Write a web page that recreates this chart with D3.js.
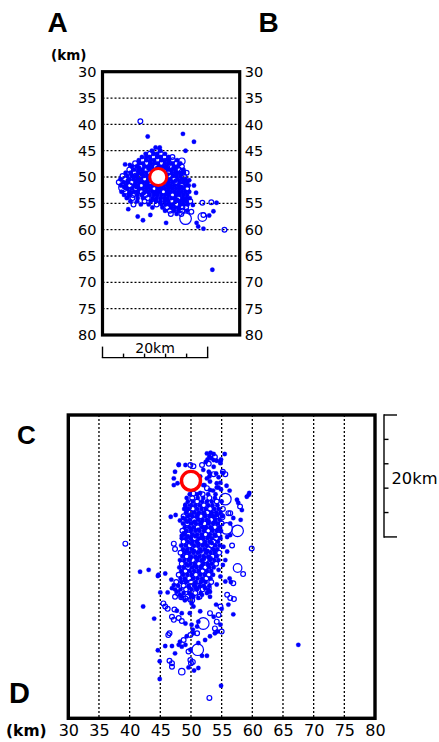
<!DOCTYPE html>
<html>
<head>
<meta charset="utf-8">
<script src="https://cdn.jsdelivr.net/npm/d3@7"></script>
<style>
  body { margin: 0; background: #fff; }
  svg { display: block; }
  text { font-family: "DejaVu Sans", sans-serif; fill: #000; }
</style>
</head>
<body>
<svg id="chart" width="439" height="742"></svg>
<script>
// ---- depth axis ticks (km) ----
const depthTicks = [30, 35, 40, 45, 50, 55, 60, 65, 70, 75, 80];
const gridDepths = [35, 40, 45, 50, 55, 60, 65, 70, 75];
// ---- 20 km scale bars, subdivided every 4 km ----
const scaleBarKm = [0, 4, 8, 12, 16, 20];

// ---- main shock: [distance along A-B, depth] and [depth, distance along C-D] ----
const abMainShock = [10.6, 50.0];
const cdMainShock = [50.0, 10.8];

// ---- events on A-B section: [distance km, depth km, size class] ----
// size class 1 = small filled dot, 2..5 = open circles of increasing magnitude
const abEvents = [
  [10.1,44.4,1],[10.9,44.4,1],
  [9.4,45.0,1],[10.2,45.0,2],[11.0,45.0,1],
  [8.2,45.6,1],[9.0,45.6,2],[9.7,45.6,1],[10.4,45.6,1],[11.1,45.6,2],[11.9,45.6,1],
  [7.5,46.2,1],[8.3,46.2,1],[9.0,46.2,1],[9.7,46.2,2],[10.4,46.2,1],[11.1,46.2,1],[11.8,46.2,2],[12.6,46.2,1],[13.3,46.2,2],
  [6.9,46.8,1],[7.6,46.8,2],[8.4,46.8,1],[9.1,46.8,1],[9.8,46.8,1],[10.5,46.8,2],[11.2,46.8,1],[11.9,46.8,1],[12.6,46.8,1],[13.4,46.8,2],[14.2,46.8,1],
  [6.2,47.4,2],[7.0,47.4,1],[7.7,47.4,1],[8.4,47.4,2],[9.1,47.4,1],[9.8,47.4,1],[10.5,47.4,1],[11.2,47.4,2],[11.9,47.4,1],[12.6,47.4,1],[13.3,47.4,1],[14.0,47.4,2],[14.8,47.4,1],
  [5.6,48.0,1],[6.5,48.0,1],[7.3,48.0,2],[8.0,48.0,1],[8.7,48.0,1],[9.4,48.0,1],[10.1,48.0,2],[10.8,48.0,1],[11.5,48.0,1],[12.2,48.0,1],[12.9,48.0,2],[13.6,48.0,1],[14.3,48.0,1],[15.1,48.0,2],
  [5.1,48.6,2],[6.0,48.6,1],[6.8,48.6,1],[7.6,48.6,1],[8.3,48.6,2],[9.0,48.6,1],[9.7,48.6,1],[10.4,48.6,1],[11.1,48.6,1],[11.8,48.6,2],[12.5,48.6,1],[13.2,48.6,1],[13.9,48.6,1],[14.6,48.6,2],[15.4,48.6,1],
  [4.4,49.2,1],[5.3,49.2,1],[6.1,49.2,2],[6.9,49.2,1],[7.6,49.2,1],[8.3,49.2,1],[9.0,49.2,2],[9.7,49.2,1],[10.4,49.2,1],[11.1,49.2,1],[11.8,49.2,1],[12.5,49.2,2],[13.2,49.2,1],[13.9,49.2,1],[14.6,49.2,1],[15.3,49.2,1],[16.0,49.2,2],
  [3.8,49.8,2],[4.7,49.8,1],[5.6,49.8,1],[6.4,49.8,1],[7.1,49.8,2],[7.8,49.8,1],[8.5,49.8,1],[9.2,49.8,1],[9.9,49.8,1],[10.6,49.8,1],[11.3,49.8,1],[12.0,49.8,1],[12.7,49.8,2],[13.4,49.8,1],[14.1,49.8,1],[14.8,49.8,1],[15.5,49.8,2],
  [3.4,50.4,1],[4.3,50.4,2],[5.1,50.4,1],[5.9,50.4,1],[6.6,50.4,1],[7.3,50.4,1],[8.0,50.4,2],[8.7,50.4,1],[9.4,50.4,1],[10.1,50.4,1],[10.8,50.4,1],[11.5,50.4,1],[12.2,50.4,1],[12.9,50.4,1],[13.6,50.4,2],[14.3,50.4,1],[15.0,50.4,1],[15.8,50.4,1],
  [3.1,51.0,2],[4.0,51.0,1],[4.8,51.0,1],[5.6,51.0,2],[6.3,51.0,1],[7.0,51.0,1],[7.7,51.0,1],[8.4,51.0,1],[9.1,51.0,2],[9.8,51.0,1],[10.5,51.0,1],[11.2,51.0,1],[11.9,51.0,1],[12.6,51.0,1],[13.3,51.0,1],[14.0,51.0,2],[14.7,51.0,1],[15.4,51.0,1],[16.1,51.0,1],
  [3.5,51.6,1],[4.4,51.6,1],[5.2,51.6,2],[6.0,51.6,1],[6.7,51.6,1],[7.4,51.6,2],[8.1,51.6,1],[8.8,51.6,1],[9.5,51.6,1],[10.2,51.6,1],[10.9,51.6,1],[11.6,51.6,1],[12.3,51.6,1],[13.0,51.6,1],[13.7,51.6,1],[14.4,51.6,1],[15.1,51.6,2],[15.8,51.6,1],[16.4,51.6,1],
  [4.7,52.2,1],[5.5,52.2,1],[6.3,52.2,2],[7.0,52.2,1],[7.7,52.2,1],[8.4,52.2,1],[9.1,52.2,1],[9.8,52.2,2],[10.5,52.2,1],[11.2,52.2,1],[11.9,52.2,1],[12.6,52.2,1],[13.3,52.2,1],[14.0,52.2,1],[14.7,52.2,1],[15.4,52.2,1],[16.1,52.2,2],
  [3.6,52.8,1],[4.4,52.8,2],[5.2,52.8,1],[6.0,52.8,1],[6.7,52.8,1],[7.4,52.8,2],[8.1,52.8,1],[8.8,52.8,1],[9.5,52.8,1],[10.2,52.8,1],[10.9,52.8,1],[11.6,52.8,2],[12.3,52.8,1],[13.0,52.8,1],[13.7,52.8,1],[14.4,52.8,1],[15.1,52.8,1],[15.8,52.8,1],[16.5,52.8,1],
  [4.1,53.4,1],[5.0,53.4,1],[5.8,53.4,2],[6.6,53.4,1],[7.4,53.4,1],[8.2,53.4,2],[9.0,53.4,1],[9.8,53.4,1],[10.5,53.4,1],[11.2,53.4,1],[11.9,53.4,1],[12.6,53.4,1],[13.3,53.4,2],[14.0,53.4,1],[14.7,53.4,1],[15.4,53.4,1],[16.1,53.4,1],
  [4.6,54.0,1],[5.7,54.0,2],[6.7,54.0,1],[7.7,54.0,1],[8.6,54.0,2],[9.5,54.0,1],[10.3,54.0,1],[11.0,54.0,1],[11.7,54.0,1],[12.4,54.0,1],[13.1,54.0,1],[13.8,54.0,1],[14.5,54.0,2],[15.2,54.0,1],[15.9,54.0,1],[16.6,54.0,1],
  [5.3,54.6,1],[6.6,54.6,1],[8.0,54.6,2],[9.2,54.6,1],[10.2,54.6,1],[11.0,54.6,1],[11.8,54.6,1],[12.5,54.6,1],[13.2,54.6,2],[13.9,54.6,1],[14.6,54.6,1],[15.3,54.6,1],[16.0,54.6,1],[16.7,54.6,2],
  [7.3,55.2,1],[8.8,55.2,1],[10.3,55.2,2],[11.2,55.2,1],[12.0,55.2,1],[12.7,55.2,1],[13.4,55.2,1],[14.1,55.2,2],[14.8,55.2,1],[15.5,55.2,1],[16.2,55.2,1],
  [9.5,55.8,1],[11.4,55.8,1],[12.3,55.8,2],[13.1,55.8,1],[13.8,55.8,1],[14.5,55.8,1],[15.2,55.8,2],[15.9,55.8,2],
  [11.9,56.4,1],[12.8,56.4,2],[13.6,56.4,1],[14.4,56.4,1],[15.2,56.4,2],[16.1,56.4,1],
  [13.0,57.0,2],[14.1,57.0,1],[15.0,57.0,2],
  [7.0,48.3,1],[8.7,48.3,1],[10.4,48.3,1],[12.0,48.3,1],[13.6,48.3,1],
  [5.5,49.5,1],[7.4,49.5,1],[9.5,49.5,1],[12.3,49.5,1],[14.0,49.5,1],
  [4.8,50.7,1],[6.9,50.7,1],[9.0,50.7,1],[11.8,50.7,1],[13.9,50.7,1],[15.5,50.7,1],
  [4.1,51.9,1],[6.4,51.9,1],[8.6,51.9,1],[10.7,51.9,1],[12.9,51.9,1],[15.0,51.9,1],
  [5.4,53.1,1],[7.8,53.1,1],[10.1,53.1,1],[12.3,53.1,1],[14.4,53.1,1],
  [9.9,54.3,1],[12.0,54.3,1],[14.2,54.3,1],[15.6,54.3,1],
  [7.2,39.4,2],[8.6,42.3,1],[15.3,41.8,1],[17.4,43.3,1],[15.8,45.0,1],[4.3,47.6,1],[5.2,47.7,1],
  [7.0,48.6,1],[6.4,49.7,2],[13.2,48.1,2],[14.6,47.5,1],[15.1,47.0,3],[15.2,49.1,3],[16.5,50.6,1],
  [3.9,52.0,4],[4.8,53.9,1],[5.9,55.2,2],[4.9,56.1,1],[6.7,57.5,1],[7.7,58.2,1],[9.1,57.2,1],
  [12.1,58.7,1],[15.8,57.9,5],[19.0,57.6,4],[19.2,57.2,2],[19.0,54.9,2],[20.7,54.8,2],[21.7,54.9,1],
  [21.1,56.5,1],[20.3,57.3,1],[17.9,58.7,1],[18.2,59.4,1],[19.2,59.8,1],[23.2,60.0,2],[20.9,67.6,1],
  [17.8,53.0,1],[17.2,55.3,1],[16.9,56.6,2],[17.4,51.6,1]
];

// ---- events on C-D section: [depth km, distance from C km, size class] ----
const cdEvents = [
  // shallow group near C
  [52.6,6.3,1],[53.2,6.2,1],[53.7,6.4,1],[53.3,7.1,1],[52.7,7.3,1],[53.7,7.4,1],[54.2,7.5,1],
  [55.5,6.4,1],[54.9,7.3,1],[53.0,6.8,1],[53.9,6.9,2],[52.4,7.7,1],[54.8,7.6,1],
  // around the main shock
  [48.0,8.2,1],[49.1,8.2,1],[49.9,8.2,2],[50.4,8.4,2],[47.4,9.3,1],[47.2,11.5,1],[47.8,11.2,1],
  [52.0,9.0,1],[51.5,10.1,1],[52.6,10.4,1],[53.1,10.9,1],[52.2,11.5,1],[53.1,12.3,1],[54.2,11.2,1],
  [54.5,11.9,1],[54.9,12.2,1],[55.2,9.5,1],[55.6,9.7,2],[52.9,8.0,2],[53.7,8.5,1],[54.8,7.9,1],
  [51.8,8.2,2],[53.1,9.6,1],[54.1,9.6,1],[48.0,8.1,1],[47.2,10.4,1],[52.9,9.3,1],[53.0,10.1,1],
  [53.7,9.7,2],[54.5,10.2,1],[55.2,9.3,2],[54.8,11.1,1],[54.2,11.9,1],[53.6,12.4,1],[52.6,12.0,2],
  [55.8,11.6,1],[56.3,12.4,1],[52.0,11.5,1],[51.0,11.5,1],[51.5,12.8,1],[50.4,12.9,2],
  // main body
  [49.8,13.0,1],[51.0,13.0,1],[51.9,13.0,2],[52.8,13.0,1],[54.0,13.0,1],
  [49.3,13.6,1],[50.2,13.6,2],[51.1,13.6,1],[52.0,13.6,1],[53.0,13.6,2],[53.9,13.6,1],
  [49.5,14.2,1],[50.3,14.2,1],[51.0,14.2,2],[51.8,14.2,1],[52.6,14.2,1],[53.4,14.2,1],[54.2,14.2,2],[55.0,14.2,1],
  [49.2,14.8,2],[50.0,14.8,1],[50.7,14.8,1],[51.4,14.8,1],[52.1,14.8,2],[52.8,14.8,1],[53.5,14.8,1],[54.3,14.8,1],
  [48.9,15.4,1],[49.6,15.4,1],[50.3,15.4,2],[51.0,15.4,1],[51.7,15.4,1],[52.4,15.4,1],[53.1,15.4,2],[53.8,15.4,1],[54.5,15.4,1],[55.2,15.4,2],
  [49.2,16.0,1],[49.9,16.0,2],[50.6,16.0,1],[51.3,16.0,1],[52.0,16.0,1],[52.7,16.0,2],[53.4,16.0,1],[54.1,16.0,1],[54.8,16.0,1],
  [48.8,16.6,2],[49.5,16.6,1],[50.2,16.6,1],[50.9,16.6,1],[51.6,16.6,2],[52.3,16.6,1],[53.0,16.6,1],[53.7,16.6,1],[54.4,16.6,2],[55.1,16.6,1],
  [49.1,17.2,1],[49.8,17.2,1],[50.5,17.2,2],[51.2,17.2,1],[51.9,17.2,1],[52.6,17.2,1],[53.3,17.2,2],[54.0,17.2,1],[54.7,17.2,1],
  [48.7,17.8,1],[49.4,17.8,2],[50.1,17.8,1],[50.8,17.8,1],[51.5,17.8,1],[52.2,17.8,2],[52.9,17.8,1],[53.6,17.8,1],[54.3,17.8,1],[55.0,17.8,2],
  [49.0,18.4,1],[49.7,18.4,1],[50.4,18.4,1],[51.1,18.4,2],[51.8,18.4,1],[52.5,18.4,1],[53.2,18.4,1],[53.9,18.4,2],[54.6,18.4,1],
  [48.6,19.0,2],[49.3,19.0,1],[50.0,19.0,1],[50.7,19.0,1],[51.4,19.0,1],[52.1,19.0,1],[52.8,19.0,2],[53.5,19.0,1],[54.2,19.0,1],[54.9,19.0,1],
  [48.9,19.6,1],[49.6,19.6,2],[50.3,19.6,1],[51.0,19.6,1],[51.7,19.6,1],[52.4,19.6,2],[53.1,19.6,1],[53.8,19.6,1],[54.5,19.6,2],
  [48.5,20.2,1],[49.2,20.2,1],[49.9,20.2,1],[50.6,20.2,2],[51.3,20.2,1],[52.0,20.2,1],[52.7,20.2,1],[53.4,20.2,1],[54.1,20.2,2],[54.8,20.2,1],
  [48.8,20.8,2],[49.5,20.8,1],[50.2,20.8,1],[50.9,20.8,1],[51.6,20.8,2],[52.3,20.8,1],[53.0,20.8,1],[53.7,20.8,2],[54.4,20.8,1],
  [48.4,21.4,1],[49.1,21.4,1],[49.8,21.4,2],[50.5,21.4,1],[51.2,21.4,1],[51.9,21.4,1],[52.6,21.4,1],[53.3,21.4,2],[54.0,21.4,1],[54.7,21.4,1],
  [48.7,22.0,1],[49.4,22.0,1],[50.1,22.0,1],[50.8,22.0,2],[51.5,22.0,1],[52.2,22.0,1],[52.9,22.0,2],[53.6,22.0,1],[54.3,22.0,1],
  [48.3,22.6,2],[49.0,22.6,1],[49.7,22.6,1],[50.4,22.6,1],[51.1,22.6,1],[51.8,22.6,2],[52.5,22.6,1],[53.2,22.6,1],[53.9,22.6,1],[54.6,22.6,2],
  [48.6,23.2,1],[49.3,23.2,2],[50.0,23.2,1],[50.7,23.2,1],[51.4,23.2,1],[52.1,23.2,1],[52.8,23.2,1],[53.5,23.2,2],[54.2,23.2,1],
  [48.2,23.8,1],[48.9,23.8,1],[49.6,23.8,1],[50.3,23.8,2],[51.0,23.8,1],[51.7,23.8,1],[52.4,23.8,2],[53.1,23.8,1],[53.8,23.8,1],[54.5,23.8,1],
  [48.5,24.4,2],[49.2,24.4,1],[49.9,24.4,1],[50.6,24.4,1],[51.3,24.4,2],[52.0,24.4,1],[52.7,24.4,1],[53.4,24.4,1],[54.1,24.4,2],
  [48.1,25.0,1],[48.8,25.0,1],[49.5,25.0,2],[50.2,25.0,1],[50.9,25.0,1],[51.6,25.0,1],[52.3,25.0,2],[53.0,25.0,1],[53.7,25.0,1],
  [48.4,25.6,1],[49.1,25.6,2],[49.8,25.6,1],[50.5,25.6,1],[51.2,25.6,1],[51.9,25.6,2],[52.6,25.6,1],[53.3,25.6,1],
  [48.0,26.2,2],[48.7,26.2,1],[49.4,26.2,1],[50.1,26.2,1],[50.8,26.2,2],[51.5,26.2,1],[52.2,26.2,1],[52.9,26.2,2],[53.6,26.2,1],
  [48.3,26.8,1],[49.0,26.8,1],[49.7,26.8,2],[50.4,26.8,1],[51.1,26.8,1],[51.8,26.8,1],[52.5,26.8,2],[53.2,26.8,1],
  [47.6,27.4,2],[48.4,27.4,1],[49.2,27.4,1],[50.0,27.4,2],[50.8,27.4,1],[51.6,27.4,1],[52.4,27.4,1],[53.3,27.4,2],
  [47.9,28.0,1],[48.8,28.0,2],[49.6,28.0,1],[50.5,28.0,1],[51.3,28.0,2],[52.1,28.0,1],[53.0,28.0,1],
  [47.4,28.6,1],[48.3,28.6,1],[49.2,28.6,2],[50.1,28.6,1],[51.0,28.6,1],[51.9,28.6,2],[52.8,28.6,1],
  [47.8,29.2,2],[48.8,29.2,1],[49.7,29.2,1],[50.7,29.2,2],[51.6,29.2,1],[52.6,29.2,1],
  [48.4,29.8,1],[49.4,29.8,2],[50.4,29.8,1],[51.4,29.8,2],
  [49.0,30.4,1],[50.2,30.4,2],
  [50.0,16.3,1],[51.1,16.4,1],[52.2,16.2,1],[53.3,16.3,1],[54.2,16.4,1],
  [49.4,17.5,1],[50.6,17.5,1],[51.7,17.6,1],[52.9,17.4,1],[53.9,17.5,1],
  [50.0,18.7,1],[51.2,18.8,1],[52.3,18.6,1],[53.4,18.7,1],[54.4,18.8,1],
  [49.5,19.9,1],[50.7,19.9,1],[51.8,20.0,1],[52.9,19.9,1],[54.0,19.8,1],
  [50.1,21.1,1],[51.2,21.1,1],[52.3,21.2,1],[53.4,21.0,1],
  [49.3,22.3,1],[50.5,22.3,1],[51.6,22.4,1],[52.7,22.3,1],[53.8,22.2,1],
  [49.9,23.5,1],[51.0,23.5,1],[52.1,23.6,1],[53.2,23.5,1],
  [49.5,24.7,1],[50.6,24.7,1],[51.7,24.8,1],[52.8,24.6,1],
  [49.0,27.1,1],[50.6,27.7,1],[51.9,27.2,1],[49.7,28.3,1],[52.3,28.4,1],
  // flanks of the main body
  [57.5,13.9,1],[58.0,15.0,2],[59.1,13.4,1],[59.5,12.8,1],[59.4,13.1,1],[58.3,15.6,1],[57.7,14.4,1],
  [56.9,16.9,1],[58.1,17.2,1],[56.4,16.1,2],[55.0,16.7,3],[56.4,17.8,1],[56.1,16.1,2],
  [56.4,19.7,1],[55.9,20.0,1],[56.7,21.4,2],[59.9,21.9,2],[55.3,21.6,1],[55.9,22.4,1],[55.6,23.8,1],
  [55.2,24.6,1],[54.5,25.4,1],[54.8,26.5,1],[57.6,25.1,4],[58.5,26.1,2],
  [39.3,21.1,2],[41.7,25.7,1],[43.1,25.4,1],[44.7,26.2,1],[45.8,26.0,1],
  [48.5,19.8,1],[46.7,16.7,1],[47.5,16.4,1],[48.2,17.3,1],[49.1,14.8,1],[48.7,16.9,1],[49.3,15.6,1],
  [48.8,19.4,1],[47.2,21.1,2],[47.4,22.0,2],
  // deeper part of the section
  [44.6,26.4,1],[46.8,27.0,1],[47.2,27.9,1],[46.9,28.4,1],[47.7,29.0,1],[48.2,29.5,1],[47.4,29.8,2],
  [46.2,29.1,1],[48.4,29.9,2],[45.0,29.1,1],[42.2,31.4,1],[44.0,33.4,1],[45.5,30.9,2],[45.8,31.4,2],
  [46.2,31.8,2],[47.3,31.9,2],[46.9,33.1,2],[47.2,33.6,2],[48.0,33.3,2],[48.5,33.8,2],[49.1,34.2,1],
  [49.8,32.5,1],[50.4,31.4,1],[51.2,30.0,1],[51.8,29.5,1],[50.1,29.5,1],[49.9,30.3,2],[50.1,30.9,1],
  [50.8,28.4,1],[51.4,28.1,1],[52.9,28.4,2],[53.1,29.0,1],[54.2,27.8,1],[51.5,32.2,1],[53.1,32.5,2],
  [53.7,33.1,1],[54.5,32.8,2],[51.2,33.9,1],[51.0,34.7,1],[50.1,34.4,1],[50.3,35.2,1],
  [54.2,33.9,2],[54.8,34.4,1],[53.9,35.0,2],[55.9,29.5,2],[56.4,30.0,2],[57.0,30.2,2],[54.8,31.4,2],
  [55.0,31.8,1],[56.5,27.4,1],[55.6,27.3,1],[56.9,32.7,1],[56.1,31.1,1],[48.5,32.5,1],[47.7,32.1,1],
  [49.1,30.1,2],[53.1,29.8,1],[54.3,35.5,1],[54.1,31.1,1],[56.9,27.6,2],[56.3,26.8,1],
  [52.0,34.2,5],
  [67.5,37.7,1],[44.6,38.6,1],[45.8,37.9,1],[46.9,37.9,1],[46.3,36.1,2],[46.5,35.8,2],[47.4,39.1,1],
  [44.9,40.4,1],[46.5,40.3,2],[46.9,40.7,2],[46.9,41.3,2],[48.0,37.7,1],[48.2,37.2,1],[48.8,36.9,2],
  [49.3,36.3,1],[49.9,36.1,2],[50.4,35.8,1],[51.0,35.8,2],[49.1,37.7,1],[48.5,38.0,1],[49.9,38.5,1],
  [49.6,38.8,2],[51.2,37.4,1],[51.8,39.5,1],[52.6,39.5,1],[49.9,40.2,2],[50.3,40.5,2],
  [50.0,40.7,2],[49.6,41.4,1],[48.5,42.1,3],[50.5,41.9,1],[51.2,41.5,1],[44.9,43.3,1],[54.9,44.4,1],
  [53.0,46.4,2],[52.3,36.9,1],[53.1,36.3,1],[53.9,35.8,1],[55.0,35.5,2],
  [51.1,38.5,5],[55.6,13.8,5],[55.8,18.6,5],[57.6,19.0,5]
];

// ---- marker sizes per size class (px) ----
const markerRadius = [0, 2.2, 2.4, 3.2, 4.3, 5.8];
const BLUE = "#0000ff";

const svg = d3.select("#chart");

function drawEvents(g, data, xs, ys, xi, yi) {
  g.selectAll("circle.ev").data(data).join("circle")
    .attr("class", "ev")
    .attr("cx", d => xs(d[xi]))
    .attr("cy", d => ys(d[yi]))
    .attr("r", d => markerRadius[d[2]])
    .attr("fill", d => d[2] === 1 ? BLUE : "none")
    .attr("stroke", BLUE)
    .attr("stroke-width", d => d[2] === 1 ? 0.3 : 1.2);
}

// ================= A-B cross-section =================
const xAB = d3.scaleLinear().domain([0, 26.1]).range([102.5, 239.7]);
const yDepth = d3.scaleLinear().domain([30, 80]).range([71.7, 335]);
const gAB = svg.append("g");

gAB.selectAll("line.grid").data(gridDepths).join("line")
  .attr("class", "grid")
  .attr("x1", xAB(0)).attr("x2", xAB(26.1))
  .attr("y1", d => yDepth(d)).attr("y2", d => yDepth(d))
  .attr("stroke", "#000").attr("stroke-width", 1.3)
  .attr("stroke-dasharray", "2,2");

drawEvents(gAB.append("g"), abEvents, xAB, yDepth, 0, 1);

gAB.append("circle")
  .attr("cx", xAB(abMainShock[0])).attr("cy", yDepth(abMainShock[1]))
  .attr("r", 8.5).attr("fill", "#fff")
  .attr("stroke", "#ff0000").attr("stroke-width", 3);

gAB.append("rect")
  .attr("x", xAB(0)).attr("y", yDepth(30))
  .attr("width", xAB(26.1) - xAB(0)).attr("height", yDepth(80) - yDepth(30))
  .attr("fill", "none").attr("stroke", "#000").attr("stroke-width", 3.2);

const leftAxis = gAB.append("g")
  .attr("transform", `translate(${xAB(0)},0)`)
  .call(d3.axisLeft(yDepth).tickValues(depthTicks).tickSize(0).tickPadding(6));
const rightAxis = gAB.append("g")
  .attr("transform", `translate(${xAB(26.1)},0)`)
  .call(d3.axisRight(yDepth).tickValues(depthTicks).tickSize(0).tickPadding(5));
[leftAxis, rightAxis].forEach(a => {
  a.select(".domain").remove();
  a.selectAll("text").style("font-family", "DejaVu Sans, sans-serif")
    .style("font-size", "14.5px").attr("fill", "#000");
});

svg.append("text").attr("x", 51).attr("y", 60)
  .style("font-size", "13.5px").style("font-weight", "bold").text("(km)");

// horizontal 20 km scale bar below the section
const sbY = 357.6;
const gSB1 = svg.append("g").attr("stroke", "#000").attr("stroke-width", 1.4);
gSB1.append("line").attr("x1", xAB(0) - 0.7).attr("x2", xAB(20) + 0.7)
  .attr("y1", sbY).attr("y2", sbY);
gSB1.selectAll("line.tk").data(scaleBarKm).join("line")
  .attr("class", "tk")
  .attr("x1", d => xAB(d)).attr("x2", d => xAB(d))
  .attr("y1", d => (d === 0 || d === 20) ? sbY - 11 : sbY - 4)
  .attr("y2", sbY);
svg.append("text").attr("x", (xAB(0) + xAB(20)) / 2).attr("y", 352.5)
  .attr("text-anchor", "middle").style("font-size", "14px").text("20km");

// ================= C-D cross-section =================
const xDepth = d3.scaleLinear().domain([30, 80]).range([68.3, 375]);
const yCD = d3.scaleLinear().domain([0, 49.75]).range([415, 718.3]);
const gCD = svg.append("g");

gCD.selectAll("line.grid").data(gridDepths).join("line")
  .attr("class", "grid")
  .attr("x1", d => xDepth(d)).attr("x2", d => xDepth(d))
  .attr("y1", yCD(0)).attr("y2", yCD(49.75))
  .attr("stroke", "#000").attr("stroke-width", 1.3)
  .attr("stroke-dasharray", "2,2");

drawEvents(gCD.append("g"), cdEvents, xDepth, yCD, 0, 1);

gCD.append("circle")
  .attr("cx", xDepth(cdMainShock[0])).attr("cy", yCD(cdMainShock[1]))
  .attr("r", 9.5).attr("fill", "#fff")
  .attr("stroke", "#ff0000").attr("stroke-width", 3.4);

gCD.append("rect")
  .attr("x", xDepth(30)).attr("y", yCD(0))
  .attr("width", xDepth(80) - xDepth(30)).attr("height", yCD(49.75) - yCD(0))
  .attr("fill", "none").attr("stroke", "#000").attr("stroke-width", 3.4);

const bottomAxis = gCD.append("g")
  .attr("transform", `translate(0,${yCD(49.75)})`)
  .call(d3.axisBottom(xDepth).tickValues(depthTicks).tickSize(0).tickPadding(6));
bottomAxis.select(".domain").remove();
bottomAxis.selectAll("text").style("font-family", "DejaVu Sans, sans-serif")
  .style("font-size", "16px").attr("fill", "#000");

svg.append("text").attr("x", 6).attr("y", 736)
  .style("font-size", "15.5px").style("font-weight", "bold").text("(km)");

// vertical 20 km scale bar right of the section
const sbX = 384;
const gSB2 = svg.append("g").attr("stroke", "#000").attr("stroke-width", 1.4);
gSB2.append("line").attr("x1", sbX).attr("x2", sbX)
  .attr("y1", yCD(0) - 0.7).attr("y2", yCD(20) + 0.7);
gSB2.selectAll("line.tk").data(scaleBarKm).join("line")
  .attr("class", "tk")
  .attr("x1", sbX)
  .attr("x2", d => (d === 0 || d === 20) ? sbX + 13 : sbX + 4.5)
  .attr("y1", d => yCD(d)).attr("y2", d => yCD(d));
svg.append("text").attr("x", 391.5).attr("y", 483.5)
  .style("font-size", "16.3px").text("20km");

// ---- section end labels ----
const endLabel = (t, x, y, size) => svg.append("text").attr("x", x).attr("y", y)
  .style("font-family", "Liberation Sans, Arial, sans-serif")
  .style("font-weight", "bold").style("font-size", size + "px").text(t);
endLabel("A", 47.5, 32, 28);
endLabel("B", 258.5, 32, 28);
endLabel("C", 17, 444, 26);
endLabel("D", 9, 703, 29);
</script>
</body>
</html>
